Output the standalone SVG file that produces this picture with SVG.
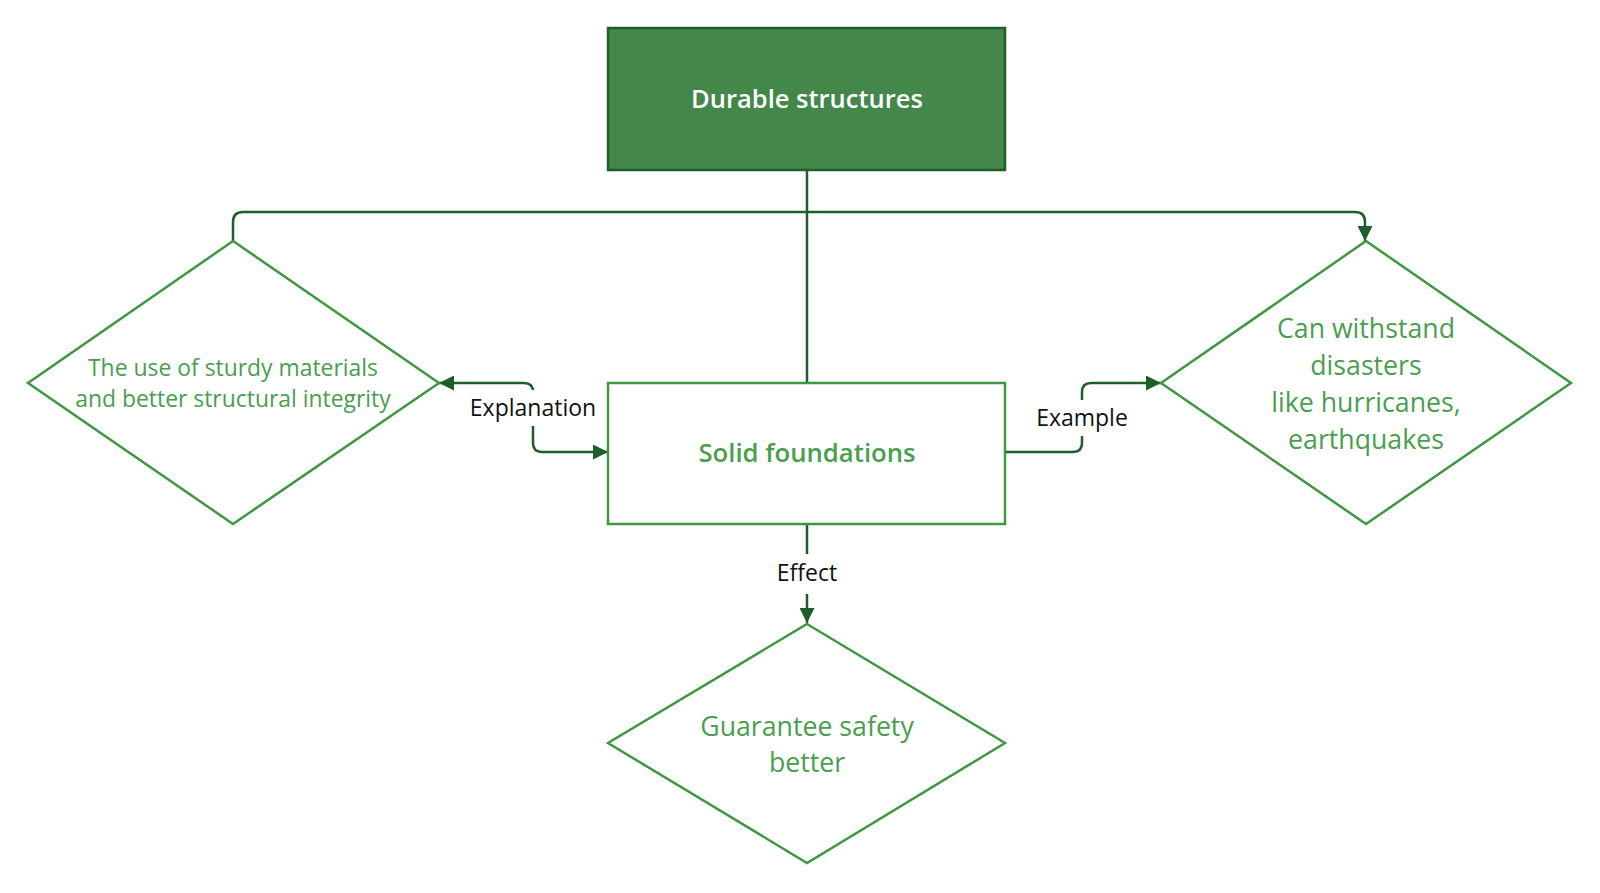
<svg xmlns="http://www.w3.org/2000/svg" width="1600" height="893" viewBox="0 0 1600 893">
<style>
.node{fill:#ffffff;stroke:#3f983f;stroke-width:2.5}
.ntext{font-family:"Open Sans","Noto Sans",sans-serif;fill:#4a9e4f;font-size:22.9px;text-anchor:middle}
.big{font-size:26.7px}
.conn{fill:none;stroke:#1d5e2a;stroke-width:2.5}
.lbl{font-family:"Open Sans","Noto Sans",sans-serif;fill:#111111;font-size:23px;text-anchor:middle}
.title{font-family:"Open Sans","Noto Sans",sans-serif;font-weight:600;text-anchor:middle}
</style>
<defs>
<marker id="arr" viewBox="0 0 10 10" refX="10" refY="5" markerWidth="6" markerHeight="6" markerUnits="strokeWidth" orient="auto-start-reverse">
<path d="M0,0 L10,5 L0,10 z" fill="#1d5e2a"/>
</marker>
</defs>
<rect width="1600" height="893" fill="#ffffff"/>
<g id="connectors">
<path class="conn" d="M233 241 L233 222 Q233 212 243 212 L1355 212 Q1365 212 1365 222 L1365 241" marker-end="url(#arr)"/>
<path class="conn" d="M807 170 L807 383"/>
<path class="conn" d="M439 383 L524 383 Q533 383 533 392 L533 443 Q533 452 542 452 L608 452" marker-start="url(#arr)" marker-end="url(#arr)"/>
<path class="conn" d="M1005 452 L1073 452 Q1082 452 1082 443 L1082 392 Q1082 383 1091 383 L1161 383" marker-end="url(#arr)"/>
<path class="conn" d="M807 524 L807 623" marker-end="url(#arr)"/>
<rect x="468" y="390" width="130" height="36" fill="#ffffff"/>
<text class="lbl" x="533" y="416">Explanation</text>
<rect x="1033" y="400" width="98" height="36" fill="#ffffff"/>
<text class="lbl" x="1082" y="426">Example</text>
<rect x="772" y="554" width="70" height="40" fill="#ffffff"/>
<text class="lbl" x="807" y="581">Effect</text>
</g>
<g id="durable">
<rect x="608" y="28" width="397" height="142" fill="#43874b" stroke="#1d5e2a" stroke-width="2.5"/>
<text class="title" x="807" y="108" font-size="25.5" fill="#ffffff">Durable structures</text>
</g>
<g id="materials">
<polygon class="node" points="233,241 439,383 233,524 28,383"/>
<text class="ntext" x="233" y="375.5">The use of sturdy materials</text>
<text class="ntext" x="233" y="406.5">and better structural integrity</text>
</g>
<g id="foundations">
<rect class="node" x="608" y="383" width="397" height="141"/>
<text class="title" x="807" y="462" font-size="25.7" fill="#4a9e4f">Solid foundations</text>
</g>
<g id="withstand">
<polygon class="node" points="1366,241 1571,383 1366,524 1161,383"/>
<text class="ntext big" x="1366" y="338">Can withstand</text>
<text class="ntext big" x="1366" y="375">disasters</text>
<text class="ntext big" x="1366" y="411.5">like hurricanes,</text>
<text class="ntext big" x="1366" y="448.5">earthquakes</text>
</g>
<g id="safety">
<polygon class="node" points="807,624 1005,743 807,863 608,743"/>
<text class="ntext big" x="807" y="736">Guarantee safety</text>
<text class="ntext big" x="807" y="771.5">better</text>
</g>
</svg>
